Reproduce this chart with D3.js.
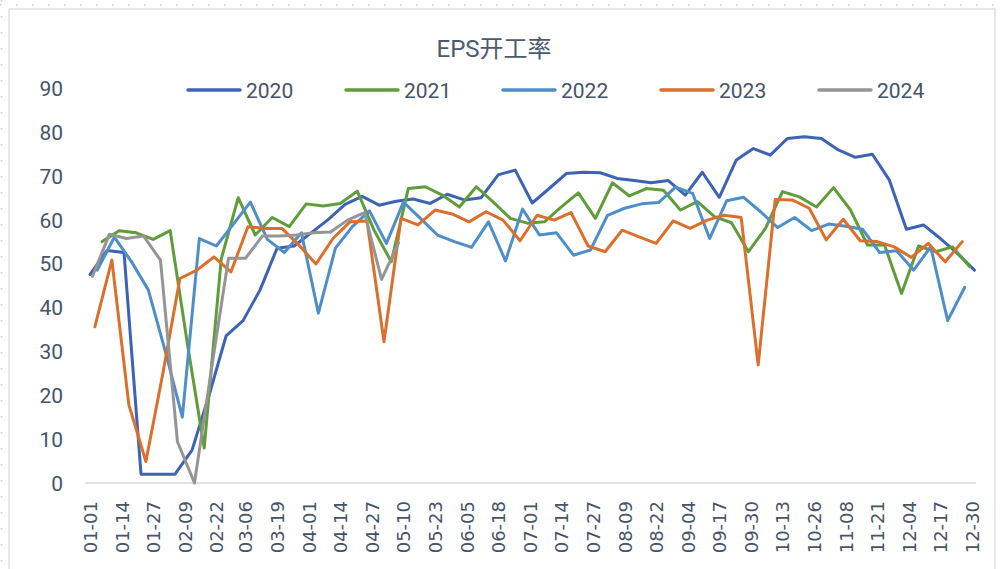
<!DOCTYPE html>
<html><head><meta charset="utf-8">
<script src="https://cdn.jsdelivr.net/npm/d3@7"></script>
<style>
html,body{margin:0;padding:0;background:#fff;}
svg{display:block;}
</style></head>
<body>
<svg id="c" width="1000" height="569"></svg>
<script>
const title = "EPS开工率";
const years = ["2020","2021","2022","2023","2024"];
const colors = ["#3D64B4","#5F9D3A","#4F8FC9","#DC6F2B","#959595"];
// first observation date (MM-DD) of each year; observations are weekly
const startDates = ["01-01","01-06","01-04","01-03","01-02"];
const v2020 = [47.5,53,52.5,2,2,2,7.5,20,33.5,37,44,53.5,54,57,60,63.5,65.3,63.3,64.2,64.7,63.7,65.8,64.5,65,70.2,71.3,63.8,67.1,70.5,70.8,70.7,69.4,68.9,68.4,68.9,65.6,70.8,65.1,73.6,76.2,74.7,78.5,78.9,78.5,75.9,74.2,74.9,69,57.8,58.8,55.7,52.3,48.5];
const v2021 = [55,57.5,57,55.5,57.5,32,8,51,65,56.5,60.5,58.4,63.6,63.1,63.7,66.5,57.5,50.4,67.1,67.5,65.6,62.9,67.5,64,60.3,59.2,59.5,62.9,66.1,60.3,68.4,65.4,67.1,66.7,62.2,64.1,60.7,59.3,52.7,58,66.4,65.2,62.9,67.3,62.2,54.2,54.2,43.2,54,52.7,53.8,49.3];
const v2022 = [48.5,56,50.5,44,30,15,55.7,54,59,64,55.5,52.5,57,38.7,53.5,58.4,62,54.6,64,60.3,56.5,55,53.7,59.5,50.6,62.4,56.5,57,51.9,53.1,61,62.6,63.6,63.9,67.4,66,55.7,64.3,65.1,61.8,58.2,60.5,57.5,59,58.5,57.8,52.5,52.9,48.5,53.8,37,44.6];
const v2023 = [35.6,50.8,17.8,4.9,25,46.6,48.5,51.5,48.1,58.4,58,58,54.2,49.9,55.7,59.5,59.7,32.2,60.3,58.8,62.2,61.3,59.5,61.8,59.9,55.2,61,59.9,61.6,54,52.7,57.6,56.1,54.6,59.7,58,59.9,61,60.5,26.9,64.6,64.5,62.6,55.4,60.1,55.2,55,53.8,51.4,54.6,50.4,55];
const v2024 = [47.1,56.7,55.7,56.3,50.8,9.4,0,26,51.2,51.2,56.3,56.3,56.5,57,57.2,59.9,61.6,46.4,54.7];
const seriesValues = [v2020,v2021,v2022,v2023,v2024];
const xTickLabels = ["01-01","01-14","01-27","02-09","02-22","03-06","03-19","04-01","04-14","04-27","05-10","05-23","06-05","06-18","07-01","07-14","07-27","08-09","08-22","09-04","09-17","09-30","10-13","10-26","11-08","11-21","12-04","12-17","12-30"];
const yTicks = [0,10,20,30,40,50,60,70,80,90];

const REF = 2001;
const parse = s => { const [m,d] = s.split("-").map(Number); return new Date(REF, m-1, d); };

const svg = d3.select("#c");
const textColor = "#44546A";

// page/chart frame
svg.append("line").attr("x1",0).attr("x2",1000).attr("y1",5).attr("y2",5)
  .attr("stroke","#cfcfcf").attr("stroke-width",1.5).attr("stroke-dasharray","1.5,14.5");
svg.append("line").attr("x1",1.5).attr("x2",1.5).attr("y1",0).attr("y2",569)
  .attr("stroke","#cfcfcf").attr("stroke-width",1.5).attr("stroke-dasharray","1.5,14.5");
svg.append("rect").attr("x",9).attr("y",9).attr("width",986).attr("height",600)
  .attr("fill","#fff").attr("stroke","#d9d9d9").attr("stroke-width",1.2);

const x = d3.scaleTime().domain([parse("01-01"), parse("12-30")]).range([90, 972]);
const y = d3.scaleLinear().domain([0, 90]).range([483, 88]);

// title
svg.append("text").attr("x", 494).attr("y", 57).attr("text-anchor","middle")
  .attr("font-family","Roboto, 'Noto Sans CJK SC', sans-serif").attr("font-size",24)
  .attr("fill","#4B5A70").text(title);

// y axis labels
const yAxis = d3.axisLeft(y).tickValues(yTicks).tickSize(0).tickPadding(0);
const gy = svg.append("g").attr("transform","translate(63,0)").call(yAxis);
gy.select(".domain").remove();
gy.selectAll("text").attr("font-family","Roboto, sans-serif").attr("font-size",21)
  .attr("fill",textColor).attr("dy","0.35em");

// x axis baseline
svg.append("line").attr("x1",85).attr("x2",976).attr("y1",y(0)).attr("y2",y(0))
  .attr("stroke","#d9d9d9").attr("stroke-width",1.5);

// x tick labels
const xAxis = d3.axisBottom(x).tickValues(xTickLabels.map(parse)).tickSize(0)
  .tickFormat(d3.timeFormat("%m-%d"));
const gx = svg.append("g").attr("transform","translate(0,501)").call(xAxis);
gx.select(".domain").remove();
gx.selectAll("text").attr("font-family","'DejaVu Sans', sans-serif").attr("font-size",18)
  .attr("fill",textColor).attr("text-anchor","end")
  .attr("transform","rotate(-90)").attr("x",0).attr("y",0).attr("dy","0.36em");

// lines
const line = d3.line().x(d => x(d.date)).y(d => y(d.value));
years.forEach((yr, i) => {
  const s = parse(startDates[i]);
  const pts = seriesValues[i].map((v, k) => ({date: d3.timeDay.offset(s, 7*k), value: v}));
  svg.append("path").datum(pts).attr("d", line).attr("fill","none")
    .attr("stroke", colors[i]).attr("stroke-width", 3)
    .attr("stroke-linejoin","round").attr("stroke-linecap","round");
});

// legend
const legX = [188, 346, 503, 661, 819];
years.forEach((yr, i) => {
  const g = svg.append("g").attr("transform",`translate(${legX[i]},90)`);
  g.append("line").attr("x1",0).attr("x2",52).attr("y1",0).attr("y2",0)
    .attr("stroke",colors[i]).attr("stroke-width",3.5).attr("stroke-linecap","round");
  g.append("text").attr("x",58).attr("y",0).attr("dy","0.36em")
    .attr("font-family","Roboto, sans-serif").attr("font-size",21).attr("fill",textColor).text(yr);
});
</script>
</body></html>
